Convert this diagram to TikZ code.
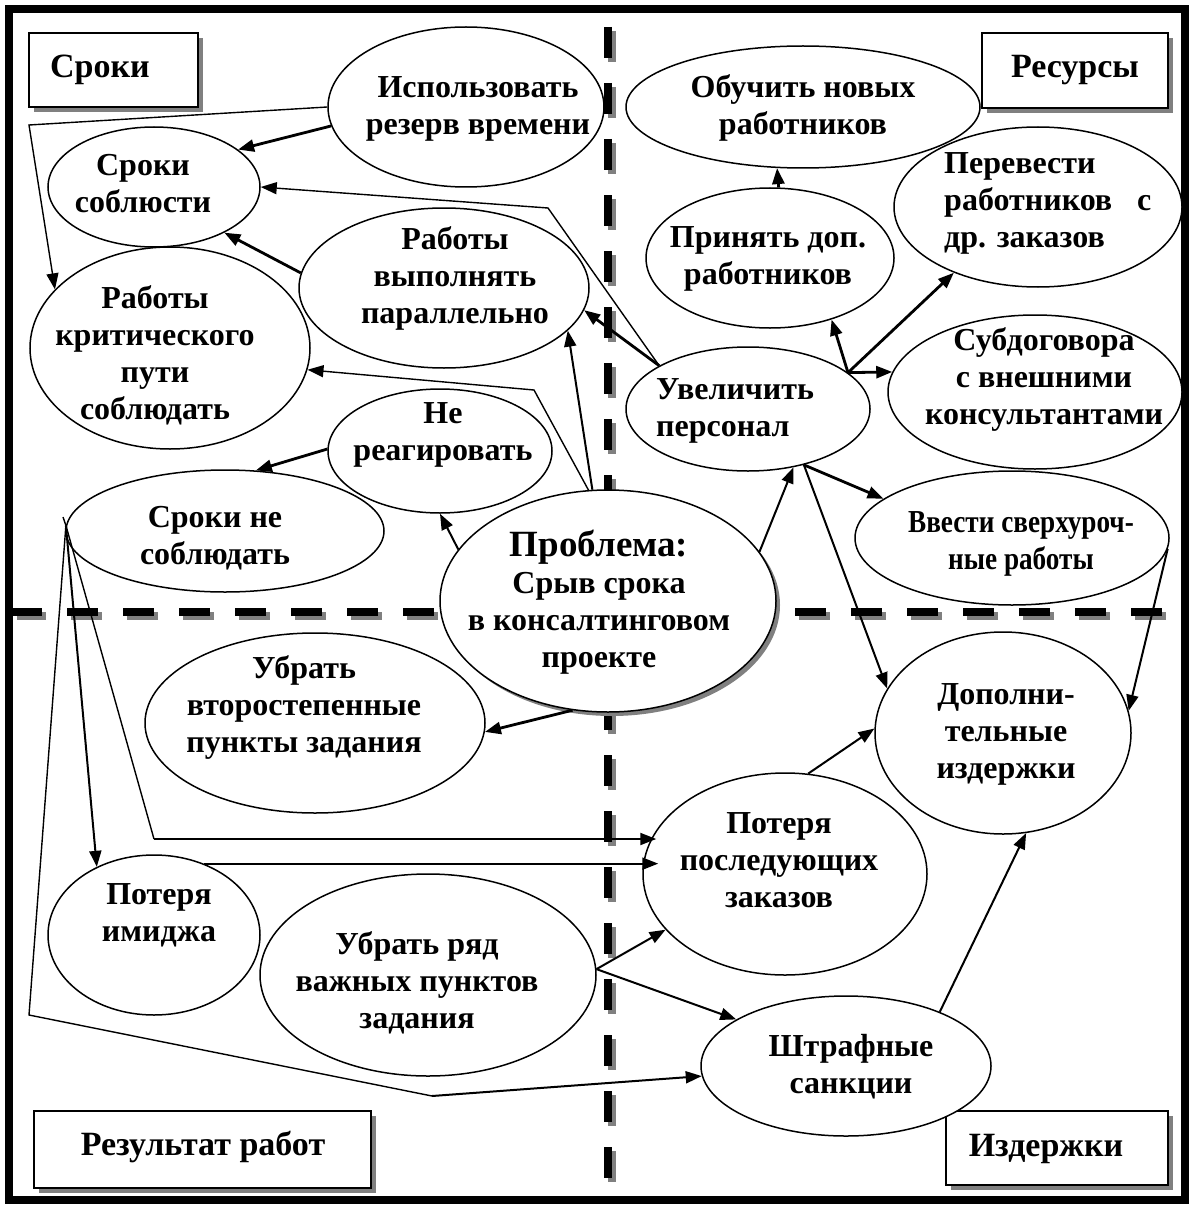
\documentclass[tikz,border=0pt]{standalone}
\usepackage{fontspec}
\usepackage{graphicx}
\setmainfont{Liberation Serif}
\usetikzlibrary{shapes.geometric,arrows.meta,shadows,calc}
\begin{document}
\begin{tikzpicture}[x=1pt,y=-1pt,
  every node/.style={font=\bfseries\fontsize{32}{37}\selectfont},
  ell/.style={draw, ellipse, line width=1.5pt, fill=white, inner sep=0pt},
  lbl/.style={align=center, inner sep=0pt},
  frm/.style={draw, line width=1.5pt, fill=white, inner sep=0pt,
     drop shadow={shadow xshift=5pt, shadow yshift=-5pt, fill=black!50, opacity=1}},
  ttl/.style={inner sep=0pt, font=\bfseries\fontsize{34}{38}\selectfont},
  ln/.style={line width=1.4pt},
  arr/.style={line width=1.4pt, -{Triangle[length=16pt,width=12pt]}},
  arrM/.style={line width=2pt, -{Triangle[length=16pt,width=12pt]}},
  arrT/.style={line width=2.8pt, -{Triangle[length=16pt,width=12pt]}},
  dsh/.style={line width=8pt, dash pattern=on 31pt off 25pt},
]
\useasboundingbox (0,0) rectangle (1190,1209);
\fill[white] (0,0) rectangle (1190,1209);
\draw[line width=8.5pt] (9,9) rectangle (1185,1200);

% dashed dividers (shadow, then black)
\draw[dsh, black!50] (612,31) -- (612,1194);
\draw[dsh, black!50, dash phase=2pt] (17,616) -- (1174,616);
\draw[dsh] (608,27) -- (608,1190);
\draw[dsh, dash phase=2pt] (13,612) -- (1170,612);

% corner boxes
\node[frm, minimum width=169pt, minimum height=74pt] (bsroki) at (113.5,70) {};
\node[ttl] (tsroki) at (100,70) {Сроки};
\node[frm, minimum width=186pt, minimum height=75pt] (bres) at (1075,70.5) {};
\node[ttl] (tres) at (1075,70) {Ресурсы};
\node[frm, minimum width=337pt, minimum height=77pt] (brez) at (202.5,1149.5) {};
\node[ttl] (trez) at (203,1147) {Результат работ};
\node[frm, minimum width=222pt, minimum height=74pt] (bizd) at (1057,1148) {};
\node[ttl] (tizd) at (1046,1149) {Издержки};

% ellipses
\node[ell, minimum width=276pt, minimum height=160pt] (isp) at (466,107) {};
\node[ell, minimum width=212pt, minimum height=120pt] (srs) at (154,187) {};
\node[ell, minimum width=280pt, minimum height=202pt] (krit) at (170,348) {};
\node[ell, minimum width=290pt, minimum height=160pt] (rvp) at (444,288) {};
\node[ell, minimum width=224pt, minimum height=124pt] (nereag) at (440,451) {};
\node[ell, minimum width=318pt, minimum height=122pt] (srn) at (225,531) {};
\node[ell, minimum width=336pt, minimum height=222pt,
      drop shadow={shadow xshift=4pt, shadow yshift=-4pt, fill=black!50, opacity=1}] (prob) at (608,601) {};
\node[ell, minimum width=354pt, minimum height=122pt] (obuch) at (803,107) {};
\node[ell, minimum width=248pt, minimum height=140pt] (prin) at (770,258) {};
\node[ell, minimum width=288pt, minimum height=160pt] (perev) at (1038,207) {};
\node[ell, minimum width=244pt, minimum height=124pt] (uvel) at (748,409) {};
\node[ell, minimum width=294pt, minimum height=154pt] (subd) at (1035,392) {};
\node[ell, minimum width=314pt, minimum height=134pt] (vvesti) at (1012,538) {};
\node[ell, minimum width=256pt, minimum height=202pt] (dop) at (1003,733) {};
\node[ell, minimum width=340pt, minimum height=180pt] (ubv) at (315,723) {};
\node[ell, minimum width=212pt, minimum height=160pt] (pimg) at (154,935) {};
\node[ell, minimum width=336pt, minimum height=202pt] (ubr) at (428,975) {};
\node[ell, minimum width=284pt, minimum height=202pt] (ppz) at (785,874) {};
\node[ell, minimum width=290pt, minimum height=140pt] (shtr) at (846,1066) {};

% texts
\node[lbl] (tisp) at (478,109) {Использовать\\резерв времени};
\node[lbl] (tsrs) at (143,184) {Сроки\\соблюсти};
\node[lbl] (tkrit) at (155,355) {Работы\\критического\\пути\\соблюдать};
\node[lbl] (trvp) at (455,278) {Работы\\выполнять\\параллельно};
\node[lbl] (tnereag) at (443,435) {Не\\реагировать};
\node[lbl] (tsrn) at (215,538) {Сроки не\\соблюдать};
\node[lbl] (tprob) at (599,602) {{\fontsize{37}{38}\selectfont Проблема:}\\Срыв срока\\в консалтинговом\\проекте};
\node[lbl] (tobuch) at (803,108) {Обучить новых\\работников};
\node[lbl] (tprin) at (768,259) {Принять доп.\\работников};
\node[lbl, align=left, anchor=west] (tperev) at (944,203) {Перевести\\работников\hspace{25pt}с\\др. заказов};
\node[lbl, align=left, anchor=west] (tuvel) at (656,411) {Увеличить\\персонал};
\node[lbl] (tsubd) at (1044,379) {Субдоговора\\с внешними\\консультантами};
\node[lbl] (tvvesti) at (1021,544) {\scalebox{0.85}[1]{Ввести сверхуроч-}\\\scalebox{0.85}[1]{ные работы}};
\node[lbl] (tdop) at (1006,734) {Дополни-\\тельные\\издержки};
\node[lbl] (tubv) at (304,707) {Убрать\\второстепенные\\пункты задания};
\node[lbl] (tpimg) at (159,915) {Потеря\\имиджа};
\node[lbl] (tubr) at (417,983) {Убрать ряд\\важных пунктов\\задания};
\node[lbl] (tppz) at (779,860) {Потеря\\последующих\\заказов};
\node[lbl] (tshtr) at (851,1067) {Штрафные\\санкции};

% connectors
\coordinate (c1) at (29,125);
\draw[arr] (isp.west) -- (c1) -- (krit.153);
\draw[arrT] (isp.188) -- (srs.24);
\coordinate (c2) at (548,208);
\draw[arr] (uvel.154) -- (c2) -- (srs.east);
\draw[arrT] (rvp.174) -- (srs.-33);
\coordinate (c3) at (534,390);
\draw[arr] (prob.100) -- (c3) -- (krit.-9);
\draw[arrM] (prob.98) -- (rvp.-19);
\draw[arrT] (uvel.154) -- (rvp.-9);
\draw[arrM] (prob.161) -- (nereag.south);
\draw[arrT] (nereag.179) -- (srn.63);
\draw[arrT] (prin.83) -- (obuch.-113);
\coordinate (hU) at (uvel.20);
\draw[arrT] (hU) -- (prin.-45);
\draw[arrT] (hU) -- (perev.-142);
\draw[arrT] (hU) -- (subd.172);
\draw[arrM] (prob.18) -- (uvel.-52);
\coordinate (hU2) at (uvel.-45);
\draw[arrT] (hU2) -- (vvesti.163);
\draw[arrM] (hU2) -- (dop.159);
\draw[arrM] (vvesti.-4) -- (dop.10);
\draw[arrT] (prob.-108) -- (ubv.-3);
\coordinate (hS) at (srn.178);
\coordinate (tick) at (63,517);
\draw[ln] (tick) -- (hS);
\draw[arrM] (hS) -- (pimg.130);
\coordinate (c4) at (154,839);
\draw[ln] (hS) -- (c4);
\draw[arrM, shorten >=-14pt] (c4) -- (c4 -| ppz.west);
\draw[arrM, shorten >=-16pt] (pimg.55) -- (pimg.55 -| ppz.west);
\coordinate (c5) at (29,1015);
\coordinate (c6) at (432,1096);
\draw[ln] (hS) -- (c5) -- (c6);
\draw[arrM] (c6) -- (shtr.184);
\coordinate (hR) at (ubr.2);
\draw[arrM] (hR) -- (ppz.-155);
\draw[arrM] (hR) -- (shtr.157);
\draw[arrM] (ppz.77) -- (dop.178);
\draw[arrM] (shtr.30) -- (dop.-77);
\end{tikzpicture}
\end{document}
